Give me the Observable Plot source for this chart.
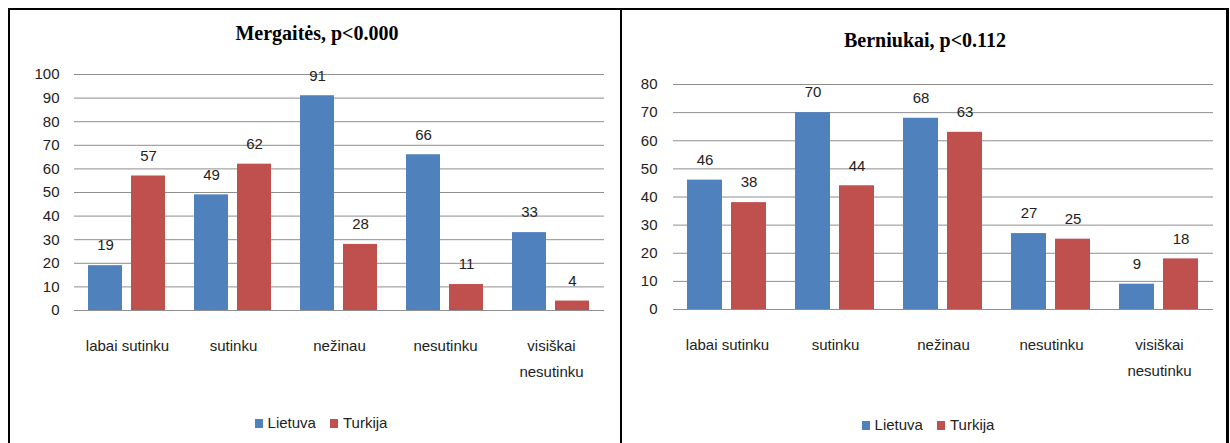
<!DOCTYPE html>
<html>
<head>
<meta charset="utf-8">
<script src="https://cdn.jsdelivr.net/npm/d3@7"></script>
<script src="https://cdn.jsdelivr.net/npm/@observablehq/plot@0.6"></script>
<style>
  body { margin: 0; background: #fff; }
  #wrap { position: relative; width: 1230px; height: 443px; overflow: hidden; background: #fff;
          font-family: "Liberation Sans", sans-serif; color: #222; }
  .bline { position: absolute; background: #000; }
  .title { position: absolute; font-family: "Liberation Serif", serif; font-weight: bold; font-size: 20px;
           text-align: center; height: 24px; line-height: 24px; color: #000; }
  .legend { position: absolute; height: 20px; line-height: 20px; display: flex; justify-content: center;
            align-items: center; font-size: 15px; color: #222; }
  .legend .item { display: flex; align-items: center; margin: 0 7px; }
  .legend .sw { width: 8px; height: 9px; margin-right: 5px; }
  .chart { position: absolute; }
</style>
</head>
<body>
<div id="wrap">
  <div class="bline" style="left:8px;top:8px;width:1221px;height:2px;"></div>
  <div class="bline" style="left:8px;top:8px;width:2px;height:440px;"></div>
  <div class="bline" style="left:620px;top:8px;width:2px;height:440px;"></div>
  <div class="bline" style="left:1226px;top:8px;width:3px;height:440px;"></div>

  <div class="title" id="t1" style="left:10px;width:614px;top:21px;"></div>
  <div class="title" id="t2" style="left:622px;width:606px;top:28px;"></div>

  <div class="chart" id="c1" style="left:10px;top:50px;"></div>
  <div class="chart" id="c2" style="left:622px;top:50px;"></div>

  <div class="legend" id="l1" style="left:10px;width:622px;top:413px;"></div>
  <div class="legend" id="l2" style="left:622px;width:612px;top:415px;"></div>
</div>
<script>
// ---- data ----
const categories = ["labai sutinku", "sutinku", "nežinau", "nesutinku", "visiškai nesutinku"];
const seriesNames = ["Lietuva", "Turkija"];
const seriesColors = ["#4F81BD", "#C0504D"];

const girlsTitle = "Mergaitės, p<0.000";
const girlsLietuva = [19, 49, 91, 66, 33];
const girlsTurkija = [57, 62, 28, 11, 4];
const girlsTicks = [0, 10, 20, 30, 40, 50, 60, 70, 80, 90, 100];

const boysTitle = "Berniukai, p<0.112";
const boysLietuva = [46, 70, 68, 27, 9];
const boysTurkija = [38, 44, 63, 25, 18];
const boysTicks = [0, 10, 20, 30, 40, 50, 60, 70, 80];

function table(a, b) {
  return categories.flatMap((c, i) => [
    {category: c, series: seriesNames[0], value: a[i]},
    {category: c, series: seriesNames[1], value: b[i]}
  ]);
}

function chart(data, ticks, opts) {
  return Plot.plot({
    width: 600,
    height: 340,
    marginLeft: opts.ml,
    marginRight: opts.mr,
    marginTop: opts.mt,
    marginBottom: opts.mb,
    style: {fontFamily: '"Liberation Sans", sans-serif', fontSize: "15px", color: "#222", background: "transparent"},
    fx: {domain: categories, padding: 0, label: null},
    x: {domain: seriesNames, paddingInner: 0.2, paddingOuter: 0.31, axis: null},
    y: {domain: [ticks[0], ticks[ticks.length - 1]], label: null},
    color: {domain: seriesNames, range: seriesColors},
    marks: [
      Plot.ruleY(ticks, {stroke: "#8e8e8e", strokeWidth: 1}),
      Plot.barY(data, {fx: "category", x: "series", y: "value", fill: "series"}),
      Plot.text(data, {fx: "category", x: "series", y: "value", text: d => String(d.value), dy: -20, fill: "#222", fontSize: 15}),
      Plot.axisY({ticks: ticks, tickSize: 0, tickPadding: opts.tp, label: null, fontSize: 15, fill: "#222"}),
      Plot.axisFx({anchor: "bottom", tickSize: 0, tickPadding: 22, label: null, lineWidth: 7, lineHeight: 1.75, fontSize: 15, fill: "#222"})
    ]
  });
}

function legend(el) {
  seriesNames.forEach((s, i) => {
    const item = document.createElement("div");
    item.className = "item";
    const sw = document.createElement("div");
    sw.className = "sw";
    sw.style.background = seriesColors[i];
    const tx = document.createElement("span");
    tx.textContent = s;
    item.appendChild(sw);
    item.appendChild(tx);
    el.appendChild(item);
  });
}

document.getElementById("t1").textContent = girlsTitle;
document.getElementById("t2").textContent = boysTitle;
document.getElementById("c1").appendChild(chart(table(girlsLietuva, girlsTurkija), girlsTicks, {ml: 63, mr: 6, mt: 24, mb: 80, tp: 15}));
document.getElementById("c2").appendChild(chart(table(boysLietuva, boysTurkija), boysTicks, {ml: 50, mr: 9, mt: 34, mb: 81, tp: 16}));
legend(document.getElementById("l1"));
legend(document.getElementById("l2"));
</script>
</body>
</html>
